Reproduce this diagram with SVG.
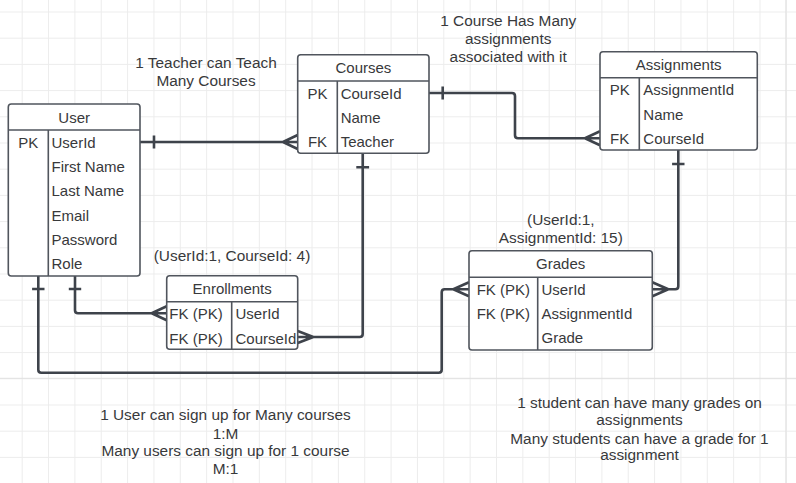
<svg xmlns="http://www.w3.org/2000/svg" width="796" height="483" viewBox="0 0 796 483">
<defs>
<pattern id="grid" patternUnits="userSpaceOnUse" x="21.7" y="11.5" width="26.35" height="26.2">
<path d="M0.5,0 V26.2 M0,0.5 H26.35" stroke="#ececec" stroke-width="1" fill="none"/>
</pattern>
<style>
.box{fill:#ffffff;stroke:#50555d;stroke-width:1.6}
.sep{stroke:#50555d;stroke-width:1.6;fill:none}
text{font-family:"Liberation Sans",Arial,sans-serif;font-size:15px;fill:#38393b}
.t{text-anchor:middle}
.c{text-anchor:middle}
.lbl{text-anchor:middle;font-size:15.4px}
.conn{fill:none;stroke:#3e434b;stroke-width:2.6;stroke-linejoin:round;stroke-linecap:butt}
</style>
</defs>
<rect width="796" height="483" fill="#ffffff"/>
<rect width="796" height="483" fill="url(#grid)"/>
<path d="M0,378.3 H796 M785.9,0 V483" stroke="#e0e0e0" stroke-width="1"/>

<g id="connectors">
<path class="conn" d="M140,142 H297.7 M154,135.5 V148.5 M283,142 L297.7,135 M283,142 L297.7,149"/>
<path class="conn" d="M429,93 H512 Q515,93 515,96 V135.3 Q515,138.3 518,138.3 H600 M442.7,86.5 V99.5 M585,138.3 L600,131.3 M585,138.3 L600,145.3"/>
<path class="conn" d="M362.7,153.3 V334 Q362.7,337 359.7,337 H297.7 M356.3,167.3 H369.1 M313.3,337 L297.7,331 M313.3,337 L297.7,343"/>
<path class="conn" d="M75,276 V310.3 Q75,313.3 78,313.3 H166.7 M68.8,289 H81.2 M151.7,313.3 L166.7,306.3 M151.7,313.3 L166.7,320.3"/>
<path class="conn" d="M38.3,276 V369.7 Q38.3,372.7 41.3,372.7 H438.7 Q441.7,372.7 441.7,369.7 V292.3 Q441.7,289.3 444.7,289.3 H469 M32.1,289 H44.5 M453.3,289.3 L469,282.3 M453.3,289.3 L469,296.3"/>
<path class="conn" d="M678.3,150 V286.3 Q678.3,289.3 675.3,289.3 H652.3 M672.1,164 H684.5 M668.3,289.3 L652.3,282.3 M668.3,289.3 L652.3,296.3"/>
</g>

<g id="user">
<rect class="box" x="8.3" y="104" width="131.7" height="172" rx="3"/>
<path class="sep" d="M8.3,130 H140 M48.3,130 V276"/>
<text class="t" x="74.2" y="122.5">User</text>
<text class="c" x="28.3" y="147.5">PK</text>
<text x="51.5" y="147.5">UserId</text>
<text x="51.5" y="172">First Name</text>
<text x="51.5" y="196.3">Last Name</text>
<text x="51.5" y="220.6">Email</text>
<text x="51.5" y="245">Password</text>
<text x="51.5" y="269.3">Role</text>
</g>

<g id="courses">
<rect class="box" x="297.7" y="54.7" width="131.3" height="98.6" rx="3"/>
<path class="sep" d="M297.7,81 H429 M337.3,81 V153.3"/>
<text class="t" x="363.4" y="73">Courses</text>
<text class="c" x="317.5" y="98.6">PK</text>
<text x="340.7" y="98.6">CourseId</text>
<text x="340.7" y="123">Name</text>
<text class="c" x="317.5" y="147">FK</text>
<text x="340.7" y="147">Teacher</text>
</g>

<g id="assignments">
<rect class="box" x="600" y="51.7" width="157.3" height="98.3" rx="3"/>
<path class="sep" d="M600,77.7 H757.3 M639.3,77.7 V150"/>
<text class="t" x="678.7" y="70.3">Assignments</text>
<text class="c" x="619.7" y="95.3">PK</text>
<text x="643.3" y="95.3">AssignmentId</text>
<text x="643.3" y="119.6">Name</text>
<text class="c" x="619.7" y="143.6">FK</text>
<text x="643.3" y="143.6">CourseId</text>
</g>

<g id="enrollments">
<rect class="box" x="166.7" y="275.7" width="131" height="73.6" rx="3"/>
<path class="sep" d="M166.7,301.7 H297.7 M231.7,301.7 V349.3"/>
<text class="t" x="232.2" y="294.3">Enrollments</text>
<text class="c" x="196" y="319.3">FK (PK)</text>
<text x="235.5" y="319.3">UserId</text>
<text class="c" x="196" y="343.6">FK (PK)</text>
<text x="235.5" y="343.6">CourseId</text>
</g>

<g id="grades">
<rect class="box" x="469" y="250.7" width="183.3" height="99.3" rx="3"/>
<path class="sep" d="M469,277.3 H652.3 M537.7,277.3 V350"/>
<text class="t" x="560.7" y="269.3">Grades</text>
<text class="c" x="503.3" y="294.6">FK (PK)</text>
<text x="541.5" y="294.6">UserId</text>
<text class="c" x="503.3" y="319">FK (PK)</text>
<text x="541.5" y="319">AssignmentId</text>
<text x="541.5" y="343.3">Grade</text>
</g>

<g id="labels">
<text class="lbl" x="206" y="68">1 Teacher can Teach</text>
<text class="lbl" x="206" y="86">Many Courses</text>
<text class="lbl" x="508.2" y="26.3">1 Course Has Many</text>
<text class="lbl" x="508.2" y="44.3">assignments</text>
<text class="lbl" x="508.2" y="62">associated with it</text>
<text class="lbl" x="232" y="261">(UserId:1, CourseId: 4)</text>
<text class="lbl" x="560.8" y="225.3">(UserId:1,</text>
<text class="lbl" x="560.8" y="242.6">AssignmentId: 15)</text>
<text class="lbl" x="225.5" y="420.3">1 User can sign up for Many courses</text>
<text class="lbl" x="225.5" y="438.6">1:M</text>
<text class="lbl" x="225.5" y="456">Many users can sign up for 1 course</text>
<text class="lbl" x="225.5" y="473.6">M:1</text>
<text class="lbl" x="639.5" y="408">1 student can have many grades on</text>
<text class="lbl" x="639.5" y="425.3">assignments</text>
<text class="lbl" x="639.5" y="443.6">Many students can have a grade for 1</text>
<text class="lbl" x="639.5" y="460.3">assignment</text>
</g>
</svg>
